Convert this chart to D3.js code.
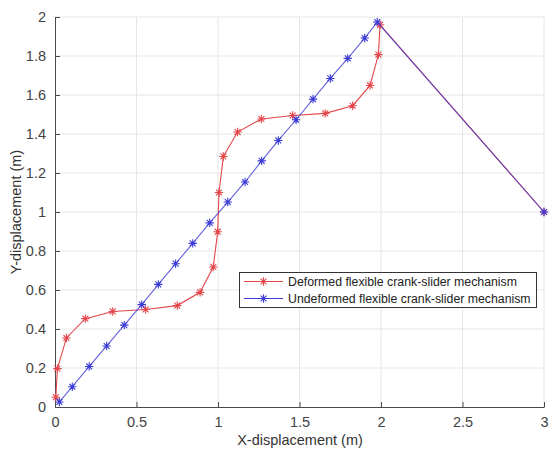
<!DOCTYPE html>
<html><head><meta charset="utf-8">
<script src="https://cdn.jsdelivr.net/npm/d3@7"></script>
<style>body{margin:0;background:#fff;} svg{display:block;font-family:"Liberation Sans",Arial,sans-serif;}</style>
</head><body><svg id="c" width="552" height="450"></svg>
<script>
const deformedX = [0.005,0.015,0.07,0.186,0.354,0.556,0.75,0.89,0.971,0.998,1.006,1.033,1.12,1.266,1.458,1.658,1.826,1.933,1.984,1.994,3.0];
const deformedY = [0.05,0.197,0.354,0.453,0.49,0.50,0.52,0.588,0.718,0.899,1.10,1.285,1.41,1.477,1.495,1.506,1.545,1.649,1.807,1.96,1.0];
const undeformedX = [0.027,0.106,0.21,0.317,0.425,0.532,0.634,0.74,0.845,0.949,1.06,1.166,1.268,1.37,1.479,1.583,1.689,1.796,1.9,1.977,3.0];
const undeformedY = [0.026,0.104,0.208,0.313,0.42,0.525,0.629,0.735,0.839,0.944,1.051,1.154,1.262,1.367,1.473,1.579,1.685,1.788,1.892,1.974,1.0];
const xTicks = [0,0.5,1,1.5,2,2.5,3];
const yTicks = [0,0.2,0.4,0.6,0.8,1,1.2,1.4,1.6,1.8,2];
const seriesNames = ["Deformed flexible crank-slider mechanism","Undeformed flexible crank-slider mechanism"];
const seriesColors = ["#e4474b","#3b3bd6"];

const svg = d3.select("#c");
const L=55, R=544, T=17, B=407;
const x = d3.scaleLinear().domain([0,3]).range([L,R]);
const y = d3.scaleLinear().domain([0,2]).range([B,T]);

// grid
const g = svg.append("g");
g.selectAll(".gx").data(xTicks.slice(1)).enter().append("line")
  .attr("x1",d=>x(d)).attr("x2",d=>x(d)).attr("y1",T).attr("y2",B)
  .attr("stroke","#e6e6e6").attr("stroke-width",1);
g.selectAll(".gy").data(yTicks.slice(1)).enter().append("line")
  .attr("y1",d=>y(d)).attr("y2",d=>y(d)).attr("x1",L).attr("x2",R)
  .attr("stroke","#e6e6e6").attr("stroke-width",1);

// axes
const xAxis = d3.axisBottom(x).tickValues(xTicks).tickFormat(d3.format("")).tickSizeInner(-5).tickSizeOuter(0).tickPadding(10);
const yAxis = d3.axisLeft(y).tickValues(yTicks).tickFormat(d3.format("")).tickSizeInner(-5).tickSizeOuter(0).tickPadding(9);
const gx = svg.append("g").attr("transform",`translate(0,${B})`).call(xAxis);
const gy = svg.append("g").attr("transform",`translate(${L},0)`).call(yAxis);
[gx,gy].forEach(a=>{
  a.select(".domain").attr("stroke","#4a4a4a");
  a.selectAll(".tick line").attr("stroke","#4a4a4a");
  a.selectAll(".tick text").attr("fill","#444").attr("font-size",14.5).attr("font-family","Liberation Sans, Arial, sans-serif");
});

// labels
svg.append("text").attr("x",300).attr("y",445).attr("text-anchor","middle")
  .attr("font-size",14.5).attr("fill","#333").text("X-displacement (m)");
svg.append("text").attr("transform","translate(21,212) rotate(-90)").attr("text-anchor","middle")
  .attr("font-size",14.5).attr("fill","#333").text("Y-displacement (m)");

function star(sel, cx, cy, r, color){
  const p = `M${cx-r},${cy}L${cx+r},${cy}M${cx},${cy-r}L${cx},${cy+r}`+
    `M${cx-r*0.7},${cy-r*0.7}L${cx+r*0.7},${cy+r*0.7}M${cx-r*0.7},${cy+r*0.7}L${cx+r*0.7},${cy-r*0.7}`;
  sel.append("path").attr("d",p).attr("stroke",color).attr("stroke-width",1.1).attr("fill","none");
}

const data = [
  deformedX.map((v,i)=>[v,deformedY[i]]),
  undeformedX.map((v,i)=>[v,undeformedY[i]])
];
const line = d3.line().x(d=>x(d[0])).y(d=>y(d[1]));
data.forEach((pts,k)=>{
  const gs = svg.append("g");
  gs.append("path").attr("d",line(pts)).attr("fill","none").attr("stroke",seriesColors[k]).attr("stroke-width",1.1)
    .attr("stroke-opacity",k===1?0.8:1);
  pts.forEach(p=>star(gs,x(p[0]),y(p[1]),4.2,seriesColors[k]));
});

// legend
const lg = svg.append("g");
lg.append("rect").attr("x",239.5).attr("y",272.5).attr("width",297).attr("height",35)
  .attr("fill","#fff").attr("stroke","#333").attr("stroke-width",1);
seriesNames.forEach((n,k)=>{
  const yy = 281.5 + k*17;
  lg.append("line").attr("x1",244).attr("x2",283).attr("y1",yy).attr("y2",yy).attr("stroke",seriesColors[k]).attr("stroke-width",1.1);
  star(lg,263.5,yy,4.2,seriesColors[k]);
  lg.append("text").attr("x",288).attr("y",yy+4.5).attr("font-size",12.3).attr("fill","#222").text(n);
});
</script></body></html>
